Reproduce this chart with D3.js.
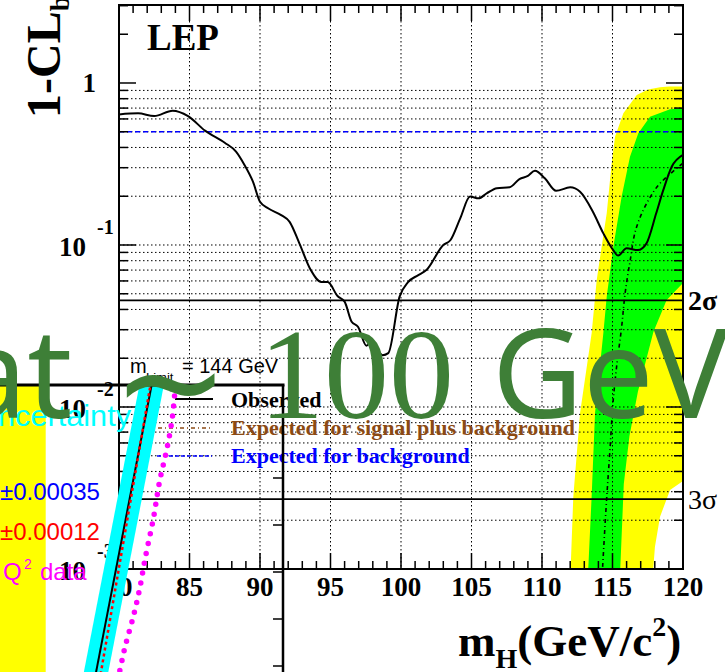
<!DOCTYPE html>
<html><head><meta charset="utf-8">
<script src="https://cdn.jsdelivr.net/npm/d3@7"></script>
<style>body{margin:0;background:#fff;overflow:hidden}</style>
</head><body><svg id="c" width="725" height="672"></svg>
<script>
// ---------- main chart data ----------
const obsMass = [80, 81.35, 82.5, 83.8, 84.9, 86.1, 87.5, 88.3, 88.9, 89.5, 90.0, 90.6, 91.5, 92.1, 92.8, 93.6, 94.35, 94.8, 95.5, 96.0, 96.5, 96.95, 97.55, 97.9, 98.7, 99.1, 99.9, 100.5, 101.2, 101.8, 103.0, 103.5, 104.2, 104.9, 105.5, 106.1, 106.8, 107.7, 108.4, 109.0, 109.5, 110.2, 111.0, 112.0, 112.7, 113.6, 114.35, 115.05, 115.4, 116.0, 116.8, 117.4, 118.1, 118.6, 119.2, 120];
const obsVal = [0.64, 0.65, 0.625, 0.675, 0.625, 0.508, 0.428, 0.377, 0.312, 0.246, 0.185, 0.168, 0.153, 0.139, 0.102, 0.070, 0.059, 0.059, 0.0484, 0.0447, 0.0336, 0.0313, 0.0239, 0.0253, 0.0209, 0.0215, 0.048, 0.059, 0.065, 0.070, 0.100, 0.107, 0.146, 0.199, 0.194, 0.209, 0.224, 0.227, 0.255, 0.267, 0.287, 0.258, 0.216, 0.227, 0.213, 0.161, 0.118, 0.093, 0.086, 0.0955, 0.093, 0.102, 0.157, 0.218, 0.304, 0.36];
const sbMass = [114.3, 114.58, 114.82, 115.05, 115.29, 115.65, 115.89, 116.24, 116.72, 117.43, 118.37, 119.55, 120];
const sbVal = [0.00103, 0.00267, 0.00543, 0.0110, 0.0177, 0.0313, 0.050, 0.0788, 0.130, 0.181, 0.24, 0.297, 0.32];
const bkgExpected = 0.5;
const sigmaVals = [0.0455, 0.0027];
const sigmaLabels = ["2σ", "3σ"];
const xTickLabels = [80, 85, 90, 95, 100, 105, 110, 115, 120];
const yMajorVals = [1, 0.1, 0.01, 0.001];
const yMajorExp = ["", "-1", "-2", "-3"];
// bands: [mass, 1-CLb]
const yellowLeft = [[120, 0.952], [119.0, 0.95], [118.37, 0.94], [117.52, 0.912], [116.72, 0.843], [115.77, 0.65], [115.18, 0.466], [114.94, 0.319], [114.59, 0.157], [114.23, 0.0977], [113.88, 0.0608], [113.52, 0.0285], [112.70, 0.00918], [112.22, 0.00279], [112.03, 0.001]];
const yellowRight = [[117.89, 0.001], [118.01, 0.00137], [118.37, 0.0021], [119.08, 0.00307], [120, 0.00349]];
const greenLeft = [[120, 0.70], [119.91, 0.698], [119.08, 0.688], [117.66, 0.619], [116.83, 0.489], [116.24, 0.351], [115.65, 0.199], [115.06, 0.0977], [114.59, 0.048], [114.35, 0.0285], [113.76, 0.00914], [113.52, 0.00279], [113.28, 0.001]];
const greenRight = [[115.55, 0.001], [115.8, 0.00335], [116.2, 0.0066], [116.8, 0.0124], [117.9, 0.029], [118.84, 0.0457], [120, 0.0582]];
const legendLabels = ["Observed", "Expected for signal plus background", "Expected for background"];
const legendColors = ["#000000", "#8b4a14", "#0000ff"];

// ---------- overlay fragment data ----------
const ovCenter = [[3.34, -0.3], [5.43, 6.2]];
const ovRed = [[3.52, -0.3], [5.38, 6.2]];
const ovMagenta = [[4.15, -0.3], [4.22, -0.13], [4.42, 0.41], [4.71, 1.05], [4.95, 1.69], [5.12, 2.26], [5.42, 3.14], [5.65, 3.96], [5.89, 4.60], [6.07, 5.20], [6.18, 5.83], [6.22, 6.1]];
const ovYellow = [-0.2, 1.615];
const ovTicks = [0, 1, 2, 3, 4];

const svg = d3.select("#c");
const serif = "'Liberation Serif','Times New Roman',serif";
const sans = "'Liberation Sans',Arial,sans-serif";

const x = d3.scaleLinear([80, 120], [119, 683]);
const y = d3.scaleLog([0.001, 3.03], [569, 5]);

svg.append("defs").append("clipPath").attr("id", "plot")
  .append("rect").attr("x", x(80)).attr("y", y(3.03)).attr("width", x(120) - x(80)).attr("height", y(0.001) - y(3.03));

const plot = svg.append("g").attr("clip-path", "url(#plot)");
const poly = d3.line().x(d => x(d[0])).y(d => y(d[1]));

// bands
plot.append("path").attr("d", poly(yellowLeft.concat(yellowRight)) + "Z").attr("fill", "#ffff00");
plot.append("path").attr("d", poly(greenLeft.concat(greenRight)) + "Z").attr("fill", "#00ff00");

// grid
const gridVals = [];
[0.001, 0.01, 0.1].forEach(d => { for (let k = 1; k <= 9; k++) { const v = k * d; if (v > 0.0011) gridVals.push(v); } });
plot.selectAll(".hg").data(gridVals).enter().append("line")
  .attr("x1", x(80)).attr("x2", x(120)).attr("y1", d => y(d)).attr("y2", d => y(d))
  .attr("stroke", "#000").attr("stroke-width", 1).attr("stroke-dasharray", "1.5,2.5");
plot.selectAll(".vg").data(xTickLabels.filter(d => d > 80 && d < 120)).enter().append("line")
  .attr("x1", d => x(d)).attr("x2", d => x(d)).attr("y1", y(3.03)).attr("y2", y(0.001))
  .attr("stroke", "#000").attr("stroke-width", 1).attr("stroke-dasharray", "1.5,2.5");

// sigma lines
plot.selectAll(".sg").data(sigmaVals).enter().append("line")
  .attr("x1", x(80)).attr("x2", x(120)).attr("y1", d => y(d)).attr("y2", d => y(d))
  .attr("stroke", "#000").attr("stroke-width", 1.6);
// background expectation
plot.append("line").attr("x1", x(80)).attr("x2", x(120)).attr("y1", y(bkgExpected)).attr("y2", y(bkgExpected))
  .attr("stroke", "#0000ff").attr("stroke-width", 1.5).attr("stroke-dasharray", "5,3");
// expected s+b
plot.append("path").attr("d", d3.line().x((d, i) => x(sbMass[i])).y(d => y(d)).curve(d3.curveMonotoneY)(sbVal))
  .attr("fill", "none").attr("stroke", "#000").attr("stroke-width", 1.6).attr("stroke-dasharray", "4,3,1,3");
// observed
plot.append("path").attr("d", d3.line().x((d, i) => x(obsMass[i])).y(d => y(d)).curve(d3.curveMonotoneX)(obsVal))
  .attr("fill", "none").attr("stroke", "#000").attr("stroke-width", 2);

// frame
svg.append("rect").attr("x", x(80)).attr("y", y(3.03)).attr("width", x(120) - x(80)).attr("height", y(0.001) - y(3.03))
  .attr("fill", "none").attr("stroke", "#000").attr("stroke-width", 2);
// x ticks
const xt = d3.range(80, 121, 1);
const tk = svg.append("g").attr("stroke", "#000").attr("stroke-width", 1.5);
xt.forEach(m => {
  const L = m % 5 === 0 ? 16 : 8;
  tk.append("line").attr("x1", x(m)).attr("x2", x(m)).attr("y1", y(0.001)).attr("y2", y(0.001) - L);
  tk.append("line").attr("x1", x(m)).attr("x2", x(m)).attr("y1", y(3.03)).attr("y2", y(3.03) + L);
});
// y ticks
[0.001, 0.01, 0.1, 1].forEach(d => {
  for (let k = 1; k <= 9; k++) {
    const v = k * d; if (v > 3.03) continue;
    const L = k === 1 ? 17 : 9;
    tk.append("line").attr("x1", x(80)).attr("x2", x(80) + L).attr("y1", y(v)).attr("y2", y(v));
    tk.append("line").attr("x1", x(120)).attr("x2", x(120) - L).attr("y1", y(v)).attr("y2", y(v));
  }
});

// tick labels
svg.selectAll(".xl").data(xTickLabels).enter().append("text")
  .attr("x", d => x(d)).attr("y", y(0.001) + 27).attr("text-anchor", "middle")
  .attr("font-family", serif).attr("font-weight", "bold").attr("font-size", 27).text(d => d);
yMajorVals.forEach((v, i) => {
  if (yMajorExp[i] === "") {
    svg.append("text").attr("x", 96).attr("y", y(v) + 9).attr("text-anchor", "end")
      .attr("font-family", serif).attr("font-weight", "bold").attr("font-size", 27).text("1");
  } else {
    svg.append("text").attr("x", 86).attr("y", y(v) + 11).attr("text-anchor", "end")
      .attr("font-family", serif).attr("font-weight", "bold").attr("font-size", 27).text("10");
    svg.append("text").attr("x", 97).attr("y", y(v) - 11)
      .attr("font-family", serif).attr("font-weight", "bold").attr("font-size", 20).text(yMajorExp[i]);
  }
});
// sigma labels
sigmaVals.forEach((v, i) => {
  svg.append("text").attr("x", 688).attr("y", y(v) + 10)
    .attr("font-family", serif).attr("font-weight", i === 0 ? "bold" : "normal").attr("font-size", 28).text(sigmaLabels[i]);
});

// titles
svg.append("text").attr("x", 147).attr("y", 50).attr("font-family", serif).attr("font-weight", "bold").attr("font-size", 37).text("LEP");
const yt = svg.append("text").attr("transform", "translate(60,118) rotate(-90)")
  .attr("font-family", serif).attr("font-weight", "bold").attr("font-size", 48);
yt.append("tspan").text("1-CL");
yt.append("tspan").attr("font-size", 28).attr("dy", 9).text("b");
const xtl = svg.append("text").attr("x", 458).attr("y", 656)
  .attr("font-family", serif).attr("font-weight", "bold").attr("font-size", 45);
xtl.append("tspan").text("m");
xtl.append("tspan").attr("font-size", 28).attr("dy", 12).text("H");
xtl.append("tspan").attr("dy", -12).text("(GeV/c");
xtl.append("tspan").attr("font-size", 28).attr("dy", -20).text("2");
xtl.append("tspan").attr("dy", 20).text(")");

// legend
const lg = svg.append("g");
lg.append("line").attr("x1", 175).attr("x2", 213).attr("y1", 399).attr("y2", 399).attr("stroke", legendColors[0]).attr("stroke-width", 2);
lg.append("line").attr("x1", 158).attr("x2", 212).attr("y1", 428).attr("y2", 428).attr("stroke", legendColors[1]).attr("stroke-width", 1.5).attr("stroke-dasharray", "4,3,1,3");
lg.append("line").attr("x1", 157).attr("x2", 212).attr("y1", 456).attr("y2", 456).attr("stroke", legendColors[2]).attr("stroke-width", 1.5).attr("stroke-dasharray", "4,2");
legendLabels.forEach((t, i) => {
  lg.append("text").attr("x", 231).attr("y", 407 + i * 28).attr("fill", legendColors[i])
    .attr("font-family", serif).attr("font-weight", "bold").attr("font-size", 22).text(t);
});

// ---------- overlay fragment ----------
const ox = d3.scaleLinear([0, 10], [0, 283]);
const oy = d3.scaleLinear([0, 6], [666, 384]);
svg.select("defs").append("clipPath").attr("id", "ov")
  .append("rect").attr("x", 0).attr("y", 385).attr("width", 283).attr("height", 287);
const ov = svg.append("g");
const ovc = ov.append("g").attr("clip-path", "url(#ov)");
ovc.append("rect").attr("x", ox(ovYellow[0])).attr("y", oy(6.2)).attr("width", ox(ovYellow[1]) - ox(ovYellow[0])).attr("height", oy(-0.3) - oy(6.2)).attr("fill", "#ffff00");
const ol = d3.line().x(d => ox(d[0])).y(d => oy(d[1]));
ovc.append("path").attr("d", ol(ovCenter)).attr("stroke", "#00ffff").attr("stroke-width", 24).attr("fill", "none");
ovc.append("path").attr("d", ol(ovCenter)).attr("stroke", "#000").attr("stroke-width", 2).attr("fill", "none");
ovc.append("path").attr("d", ol(ovRed)).attr("stroke", "#ff0000").attr("stroke-width", 2.5).attr("stroke-dasharray", "3,3").attr("fill", "none");
ovc.append("path").attr("d", d3.line().x(d => ox(d[0])).y(d => oy(d[1])).curve(d3.curveMonotoneY)(ovMagenta))
  .attr("stroke", "#ff00ff").attr("stroke-width", 5.5).attr("stroke-linecap", "round").attr("stroke-dasharray", "0,10").attr("fill", "none");
// overlay frame + ticks
ov.append("line").attr("x1", 0).attr("x2", 284.5).attr("y1", 385).attr("y2", 385).attr("stroke", "#000").attr("stroke-width", 3);
ov.append("line").attr("x1", 283).attr("x2", 283).attr("y1", 385).attr("y2", 672).attr("stroke", "#000").attr("stroke-width", 2.5);
ov.selectAll(".ot").data(ovTicks).enter().append("line")
  .attr("x1", 273).attr("x2", 283).attr("y1", d => oy(d)).attr("y2", d => oy(d)).attr("stroke", "#000").attr("stroke-width", 1.5);
// overlay texts
ov.append("text").attr("x", -2).attr("y", 426).attr("fill", "#00ffff").attr("font-family", sans).attr("font-size", 29)
  .attr("textLength", 133).attr("lengthAdjust", "spacingAndGlyphs").text("ncertainty");
ov.append("text").attr("x", 0).attr("y", 500).attr("fill", "#0000ff").attr("font-family", sans).attr("font-size", 24).text("±0.00035");
ov.append("text").attr("x", 0).attr("y", 540).attr("fill", "#ff0000").attr("font-family", sans).attr("font-size", 24).text("±0.00012");
const qt = ov.append("g").attr("fill", "#ff00ff").attr("font-family", sans);
qt.append("text").attr("x", 3).attr("y", 580).attr("font-size", 24).text("Q");
qt.append("text").attr("x", 24).attr("y", 569).attr("font-size", 14).text("2");
qt.append("text").attr("x", 40).attr("y", 580).attr("font-size", 24).text("data");
const mt = ov.append("g").attr("fill", "#000").attr("font-family", sans);
mt.append("text").attr("x", 130).attr("y", 373).attr("font-size", 20).text("m");
mt.append("text").attr("x", 146).attr("y", 382).attr("font-size", 13).text("Limit");
mt.append("text").attr("x", 182).attr("y", 373).attr("font-size", 20).text("= 144 GeV");

// ---------- big green caption ----------
const gc = svg.append("g").attr("fill", "#3e7f37");
gc.append("text").attr("x", -43).attr("y", 418).attr("font-family", "'Noto Sans',sans-serif").attr("font-size", 125).text("at");
gc.append("text").attr("x", 112).attr("y", 430).attr("font-family", "'DejaVu Sans',sans-serif").attr("font-size", 140).text("~");
gc.append("text").attr("x", 259).attr("y", 418).attr("font-family", serif).attr("font-size", 130).text("100");
gc.append("text").attr("x", 492).attr("y", 418).attr("font-family", "'Noto Sans',sans-serif").attr("font-size", 125).text("GeV");
</script></body></html>
